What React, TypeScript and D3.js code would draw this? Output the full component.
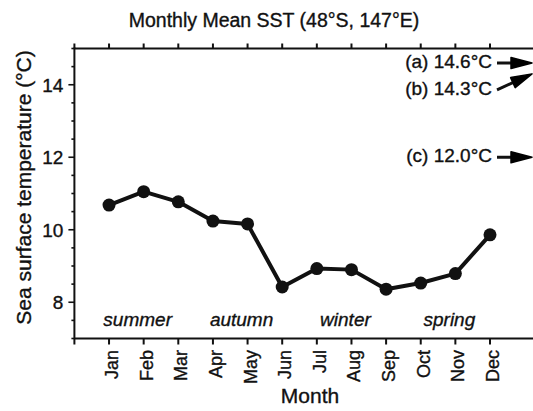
import React from "react";
import * as d3 from "d3";

// monthly mean SST at 48°S, 147°E
const months = ["Jan", "Feb", "Mar", "Apr", "May", "Jun", "Jul", "Aug", "Sep", "Oct", "Nov", "Dec"];
const sst = [10.68, 11.05, 10.77, 10.24, 10.16, 8.42, 8.93, 8.9, 8.36, 8.53, 8.79, 9.86];

const seasons = ["summer", "autumn", "winter", "spring"];
const seasonMonth = [1, 4, 7, 10]; // middle month of each season

const refLabels = ["(a) 14.6°C", "(b) 14.3°C", "(c) 12.0°C"];
const refValues = [14.6, 14.3, 12.0];

const yTicks = [8, 10, 12, 14];

const width = 533;
const height = 411;
const font = "'Liberation Sans', Arial, Helvetica, sans-serif";
const ink = "#111";
// scanned-print look: text slightly heavier than regular
const textStroke = { stroke: ink, strokeWidth: 0.35 };

const App: React.FC = () => {
  const x = d3.scaleLinear().domain([-1, 11]).range([74.4, 490]);
  const y = d3.scaleLinear().domain([7, 15]).range([338.5, 48.5]);

  const left = x(-1);
  const top = y(15);
  const bottom = y(7);

  const line = d3
    .line<number>()
    .x((_, i) => x(i))
    .y((d) => y(d));

  const minorTicks = d3.range(7, 15.01, 0.5).filter((v) => !yTicks.includes(v));

  // arrows at the right edge pointing at the reference temperatures
  const arrowX0 = 497;
  const arrowX1 = 532;

  return (
    <svg
      width={width}
      height={height}
      style={{ position: "absolute", left: 0, top: 0, background: "#fff" }}
      fontFamily={font}
    >
      <text x={274} y={27} textAnchor="middle" fontSize={19.5} fill={ink} {...textStroke}>
        Monthly Mean SST (48°S, 147°E)
      </text>

      {/* frame */}
      <g stroke={ink} strokeWidth={2} fill="none">
        <line x1={left} x2={width} y1={top} y2={top} />
        <line x1={left} x2={width} y1={bottom} y2={bottom} />
        <line x1={left} x2={left} y1={top - 1} y2={bottom + 6} />
      </g>

      {/* top and bottom month ticks */}
      <g stroke={ink} strokeWidth={2}>
        {d3.range(-1, 12).map((i) => (
          <line key={"t" + i} x1={x(i)} x2={x(i)} y1={top} y2={top - 5} />
        ))}
        {months.map((m, i) => (
          <line key={"b" + m} x1={x(i)} x2={x(i)} y1={bottom} y2={bottom + 6} />
        ))}
      </g>

      {/* y ticks */}
      <g stroke={ink} strokeWidth={1.6}>
        {yTicks.map((v) => (
          <line key={v} x1={left - 6} x2={left} y1={y(v)} y2={y(v)} />
        ))}
        {minorTicks.map((v) => (
          <line key={v} x1={left - 3} x2={left} y1={y(v)} y2={y(v)} />
        ))}
      </g>
      {yTicks.map((v) => (
        <text
          key={v}
          x={left - 11}
          y={y(v)}
          dy="0.36em"
          textAnchor="end"
          fontSize={19}
          fill={ink}
          {...textStroke}
        >
          {v}
        </text>
      ))}

      <text
        transform={`translate(31, ${(42 + 333) / 2}) rotate(-90)`}
        textAnchor="middle"
        fontSize={21}
        fill={ink}
        {...textStroke}
      >
        Sea surface temperature (°C)
      </text>

      {/* month labels */}
      {months.map((m, i) => (
        <text
          key={m}
          transform={`translate(${x(i) + 9}, 350) rotate(-90)`}
          textAnchor="end"
          fontSize={18}
          fill={ink}
          {...textStroke}
        >
          {m}
        </text>
      ))}
      <text x={310} y={403} textAnchor="middle" fontSize={21} fill={ink} {...textStroke}>
        Month
      </text>

      {/* seasons */}
      {seasons.map((s, i) => (
        <text
          key={s}
          x={x(seasonMonth[i]) - 6}
          y={326}
          textAnchor="middle"
          fontSize={19}
          fontStyle="italic"
          fill={ink}
          {...textStroke}
        >
          {s}
        </text>
      ))}

      {/* series */}
      <path d={line(sst) || ""} fill="none" stroke={ink} strokeWidth={4} strokeLinejoin="round" />
      {sst.map((v, i) => (
        <circle key={i} cx={x(i)} cy={y(v)} r={6.5} fill={ink} />
      ))}

      {/* off-scale references */}
      {refLabels.map((lab, i) => {
        const ty = y(refValues[i]);
        const slant = i === 1 ? 16 : 0;
        const y0 = ty + slant;
        const ang = Math.atan2(ty - y0, arrowX1 - arrowX0);
        const hl = 21;
        const hw = 5.5;
        const cs = Math.cos(ang);
        const sn = Math.sin(ang);
        const bx = arrowX1 - hl * cs;
        const by = ty - hl * sn;
        const px = -sn * hw;
        const py = cs * hw;
        return (
          <g key={lab}>
            <text
              x={492}
              y={i === 1 ? ty + 21 : ty + 5}
              textAnchor="end"
              fontSize={19}
              fill={ink}
              {...textStroke}
            >
              {lab}
            </text>
            <line x1={arrowX0} y1={y0} x2={bx + 4 * cs} y2={by + 4 * sn} stroke={ink} strokeWidth={3} />
            <polygon
              points={`${arrowX1},${ty} ${bx + px},${by + py} ${bx - px},${by - py}`}
              fill="#000"
              stroke="#000"
              strokeWidth={1.5}
              strokeLinejoin="round"
            />
          </g>
        );
      })}
    </svg>
  );
};

export default App;
